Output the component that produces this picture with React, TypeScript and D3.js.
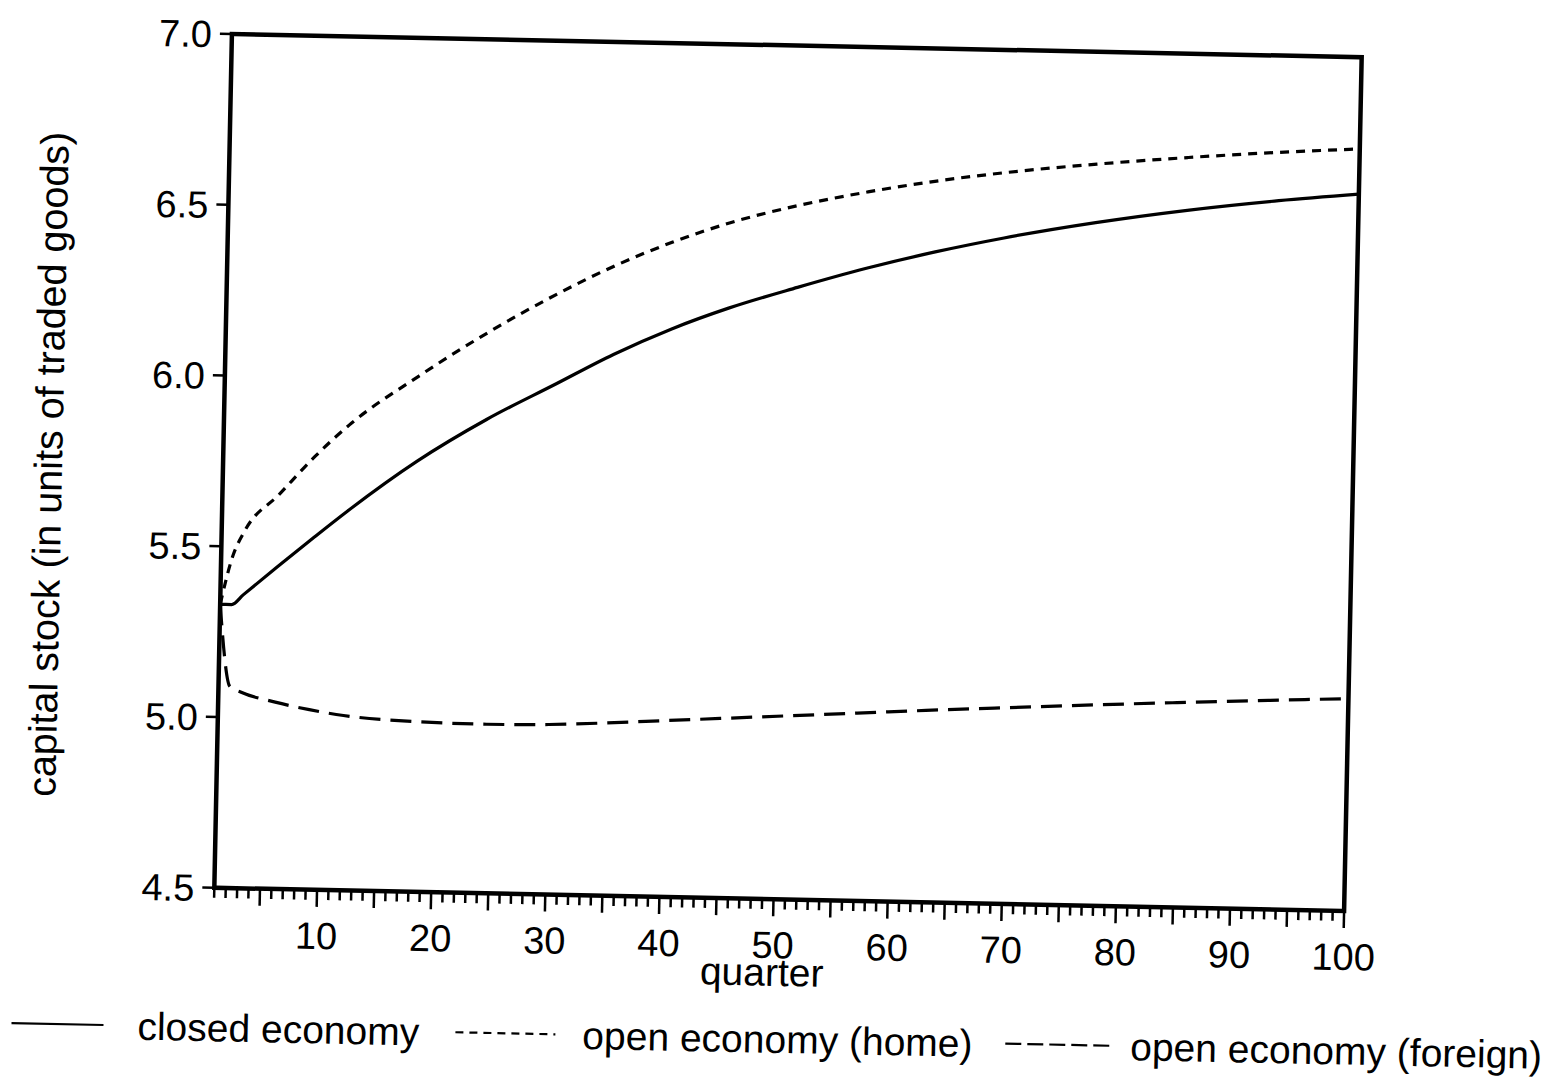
import React from 'react';
import * as d3 from 'd3';

const quarters = [1, 2, 3, 6, 9, 12, 18, 24, 30, 35, 40, 45, 51, 57, 63, 69, 77, 85, 93, 100];

const closedEconomy = [5.33, 5.33, 5.359, 5.445, 5.529, 5.611, 5.761, 5.887, 5.995, 6.085, 6.1625, 6.2275, 6.2923, 6.3523, 6.4045, 6.4495, 6.4999, 6.5415, 6.5751, 6.599];
const openHome = [5.33, 5.47, 5.545, 5.656, 5.767, 5.863, 6.01, 6.142, 6.259, 6.345, 6.4175, 6.4775, 6.5327, 6.576, 6.612, 6.6408, 6.6712, 6.696, 6.7168, 6.7315];
const openForeign = [5.33, 5.09, 5.074, 5.047, 5.027, 5.012, 4.999, 4.995, 4.998, 5.006, 5.016, 5.026, 5.038, 5.05, 5.062, 5.073, 5.087, 5.1, 5.112, 5.122];

const yTicks = [4.5, 5.0, 5.5, 6.0, 6.5, 7.0];
const xLabels = [10, 20, 30, 40, 50, 60, 70, 80, 90, 100];

const W = 1558;
const H = 1079;
const FONT = '"Liberation Sans", Arial, Helvetica, sans-serif';

const series = [
  { name: 'closed economy', values: closedEconomy, dash: 'none', legendDash: 'none' },
  { name: 'open economy (home)', values: openHome, dash: '9 7', legendDash: '8 6' },
  { name: 'open economy (foreign)', values: openForeign, dash: '21 10', legendDash: '16 6' },
];

// legend slots: line start / end, text start (unrotated frame)
const legendSlots = [
  { x0: 23, x1: 115, tx: 149 },
  { x0: 467, x1: 567, tx: 594 },
  { x0: 1017, x1: 1125, tx: 1142 },
];

export default function App() {
  const left = 223, right = 1353, top = 45.5, bottom = 899.5;
  const cx = (left + right) / 2;
  const cy = (top + bottom) / 2;

  const x = d3.scaleLinear().domain([1, 100]).range([left, right]);
  const y = d3.scaleLinear().domain([4.5, 7.0]).range([bottom, top]);

  const makeLine = (vals: number[]) =>
    d3.line<number>()
      .x((_, i) => x(quarters[i]))
      .y(d => y(d))
      .curve(d3.curveMonotoneX)(vals) as string;

  const minorTicks = d3.range(1, 101);

  return (
    <div style={{ position: 'absolute', left: 0, top: 0, width: W, height: H, background: '#fff' }}>
      <svg width={W} height={H} style={{ display: 'block' }} fontFamily={FONT}>
        <rect width={W} height={H} fill="#fff" />
        {/* the scanned page is tilted slightly clockwise */}
        <g transform={`rotate(1.18, ${cx}, ${cy})`}>
          {/* frame */}
          <rect x={left} y={top} width={right - left} height={bottom - top}
            fill="none" stroke="#000" strokeWidth={4.5} />

          {/* y ticks */}
          {yTicks.map(t => (
            <g key={t}>
              <line x1={left - 12} x2={left} y1={y(t)} y2={y(t)} stroke="#000" strokeWidth={2.5} />
              <text x={left - 20} y={y(t)} dy="0.36em" textAnchor="end" fontSize={38}>{t.toFixed(1)}</text>
            </g>
          ))}

          {/* x ticks */}
          {minorTicks.map(q => (
            <line key={q} x1={x(q)} x2={x(q)} y1={bottom}
              y2={bottom + (q % 5 === 0 ? 17 : 10)} stroke="#000" strokeWidth={2.5} />
          ))}
          {xLabels.map(q => (
            <text key={q} x={x(q)} y={bottom + 59} textAnchor="middle" fontSize={38}>{q}</text>
          ))}

          <text x={cx - 16} y={986} textAnchor="middle" fontSize={39}>quarter</text>
          <text transform={`translate(62, ${(top + bottom) / 2 + 7}) rotate(-90)`} textAnchor="middle" fontSize={39.5}>
            capital stock (in units of traded goods)
          </text>

          {/* series */}
          {series.map(s => (
            <path key={s.name} d={makeLine(s.values)} fill="none" stroke="#000"
              strokeWidth={3.2} strokeDasharray={s.dash} strokeLinejoin="round" />
          ))}

          {/* legend */}
          {series.map((s, i) => (
            <g key={s.name}>
              <line x1={legendSlots[i].x0} x2={legendSlots[i].x1} y1={1039} y2={1039}
                stroke="#000" strokeWidth={2.2} strokeDasharray={s.legendDash} />
              <text x={legendSlots[i].tx} y={1053} fontSize={39}>{s.name}</text>
            </g>
          ))}
        </g>
      </svg>
    </div>
  );
}
